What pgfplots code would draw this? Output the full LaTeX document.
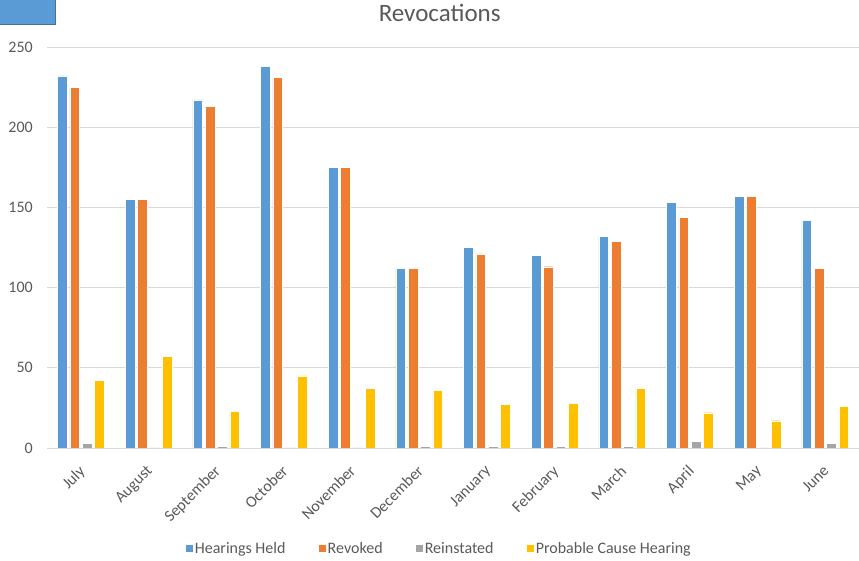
\documentclass[border=0pt]{standalone}
\usepackage{fontspec}
\setmainfont{Carlito}
\usepackage{pgfplots}
\pgfplotsset{compat=1.18}

\definecolor{cBlue}{HTML}{5B9BD5}
\definecolor{cOrange}{HTML}{ED7D31}
\definecolor{cGray}{HTML}{A5A5A5}
\definecolor{cYellow}{HTML}{FFC000}
\definecolor{cText}{HTML}{595959}
\definecolor{cGrid}{HTML}{D9D9D9}
\definecolor{cEdge}{HTML}{41719C}

\begin{document}
\begin{tikzpicture}[x=1pt,y=1pt]
% page frame
\path[use as bounding box] (-47,-113) rectangle (812,448);
% selected shape in the top-left corner
\draw[cEdge, line width=1.5pt, fill=cBlue] (-50,451) rectangle (8.5,423.5);
\begin{axis}[
  at={(0,0)}, anchor=south west,
  scale only axis,
  width=812pt, height=401pt,
  ymin=0, ymax=250,
  xmin=-0.5, xmax=11.5,
  ytick={0,50,100,150,200,250},
  xtick={0,...,11},
  xticklabels={July,August,September,October,November,December,January,February,March,April,May,June},
  /pgf/number format/assume math mode=true,
  axis line style={draw=none},
  major tick length=0pt,
  ymajorgrids,
  grid style={cGrid, line width=0.8pt},
  ticklabel style={font=\fontsize{16}{19}\selectfont, text=cText},
  yticklabel style={anchor=east, inner sep=0pt, xshift=-14pt},
  xticklabel style={rotate=45, anchor=north east, inner sep=0pt, xshift=-13.5pt, yshift=-9.5pt},
  ybar=2.6pt,
  bar width=9.7pt,
  every axis plot/.append style={draw=white, line width=0.4pt},
  title={Revocations},
  title style={font=\fontsize{25}{29}\selectfont, text=cText, at={(0.4836,1)}, anchor=south, yshift=19pt, inner sep=0pt},
  legend style={at={(0.483,-0.25)}, anchor=center, draw=none, fill=none,
    legend columns=4, font=\fontsize{16}{19}\selectfont, text=cText,
    /tikz/every even column/.append style={column sep=31pt}},
  legend image code/.code={\fill[#1, draw=none] (0pt,-3.6pt) rectangle (7.2pt,3.6pt);},
]
\addplot[fill=cBlue] coordinates {(0,232) (1,155) (2,217) (3,238) (4,175) (5,112) (6,125) (7,120) (8,132) (9,153) (10,157) (11,142)};
\addplot[fill=cOrange] coordinates {(0,225) (1,155) (2,213) (3,231) (4,175) (5,112) (6,121) (7,113) (8,129) (9,144) (10,157) (11,112)};
\addplot[fill=cGray] coordinates {(0,3) (1,0) (2,1) (3,0) (4,0) (5,1) (6,1) (7,1) (8,1) (9,4) (10,0) (11,3)};
\addplot[fill=cYellow] coordinates {(0,42) (1,57) (2,23) (3,45) (4,37) (5,36) (6,27) (7,28) (8,37) (9,22) (10,17) (11,26)};
\legend{Hearings Held, Revoked, Reinstated, Probable Cause Hearing}
\end{axis}
\end{tikzpicture}
\end{document}
